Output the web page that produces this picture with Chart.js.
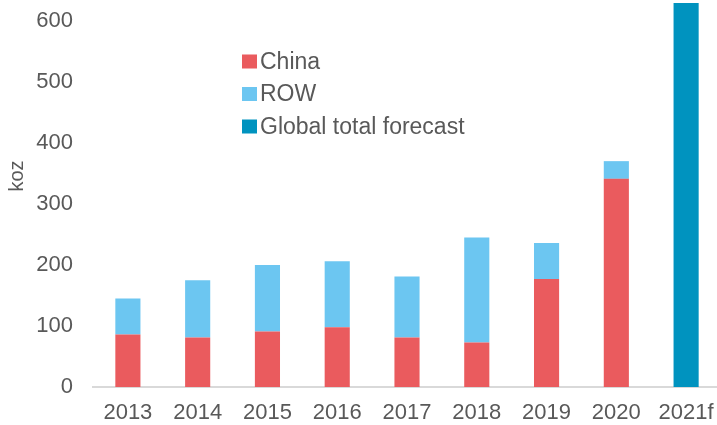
<!DOCTYPE html>
<html>
<head>
<meta charset="utf-8">
<script src="https://cdn.jsdelivr.net/npm/chart.js@4.4.1/dist/chart.umd.min.js"></script>
<style>
  html, body { margin: 0; padding: 0; background: #fff; overflow: hidden; }
  #wrap { position: relative; width: 721px; height: 425px; }
</style>
</head>
<body>
<div id="wrap"><canvas id="chart"></canvas></div>
<script>
// Data (koz)
const years = ['2013', '2014', '2015', '2016', '2017', '2018', '2019', '2020', '2021f'];
const chinaValues = [86, 81, 91, 98, 81, 73, 177, 341, null];
const rowValues = [59, 94, 109, 108, 100, 172, 59, 29, null];
const forecastValues = [null, null, null, null, null, null, null, null, 629];
const yTicks = [0, 100, 200, 300, 400, 500, 600];

const textColor = '#595959';
const fontFamily = '"Liberation Sans", Arial, sans-serif';

// Legend and unit label drawn inside the canvas, like the original
const insideLegend = {
    id: 'insideLegend',
    afterDraw(chart) {
        const ctx = chart.ctx;
        const x = 242, rows = [61.5, 94, 126.5];
        ctx.save();
        ctx.font = '23px ' + fontFamily;
        ctx.textBaseline = 'middle';
        chart.data.datasets.forEach((ds, i) => {
            ctx.fillStyle = ds.backgroundColor;
            ctx.fillRect(x, rows[i] - 7, 15, 14);
            ctx.fillStyle = textColor;
            ctx.fillText(ds.label, x + 18, rows[i] + 1);
        });
        // y axis unit
        ctx.translate(17, 176);
        ctx.rotate(-Math.PI / 2);
        ctx.textAlign = 'center';
        ctx.font = '20px ' + fontFamily;
        ctx.fillText('koz', 0, 0);
        ctx.restore();
    }
};

new Chart(document.getElementById('chart'), {
    type: 'bar',
    data: {
        labels: years,
        datasets: [
            { label: 'China', data: chinaValues, backgroundColor: '#EA5B5E' },
            { label: 'ROW', data: rowValues, backgroundColor: '#6CC6F1' },
            { label: 'Global total forecast', data: forecastValues, backgroundColor: '#0093BF' }
        ]
    },
    options: {
        responsive: true,
        maintainAspectRatio: false,
        animation: false,
        layout: { padding: 0 },
        datasets: {
            bar: { barPercentage: 0.36, categoryPercentage: 1.0, borderWidth: 0 }
        },
        plugins: {
            legend: { display: false },
            tooltip: { enabled: false }
        },
        scales: {
            x: {
                stacked: true,
                afterFit(scale) {
                    scale.height = 38;
                    scale.paddingLeft = 0;
                    scale.paddingRight = 0;
                },
                grid: { display: false, drawTicks: false },
                border: { display: true, color: '#D9D9D9', width: 2 },
                ticks: { color: textColor, font: { family: fontFamily, size: 22 }, padding: 13 }
            },
            y: {
                stacked: true,
                min: 0,
                max: 634,
                afterBuildTicks(scale) {
                    scale.ticks = yTicks.map(v => ({ value: v }));
                },
                afterFit(scale) {
                    scale.width = 93;
                    scale.paddingTop = 0;
                    scale.paddingBottom = 0;
                },
                grid: { display: false, drawTicks: false },
                border: { display: false },
                ticks: { color: textColor, font: { family: fontFamily, size: 22 }, padding: 20 }
            }
        }
    },
    plugins: [insideLegend]
});
</script>
</body>
</html>
